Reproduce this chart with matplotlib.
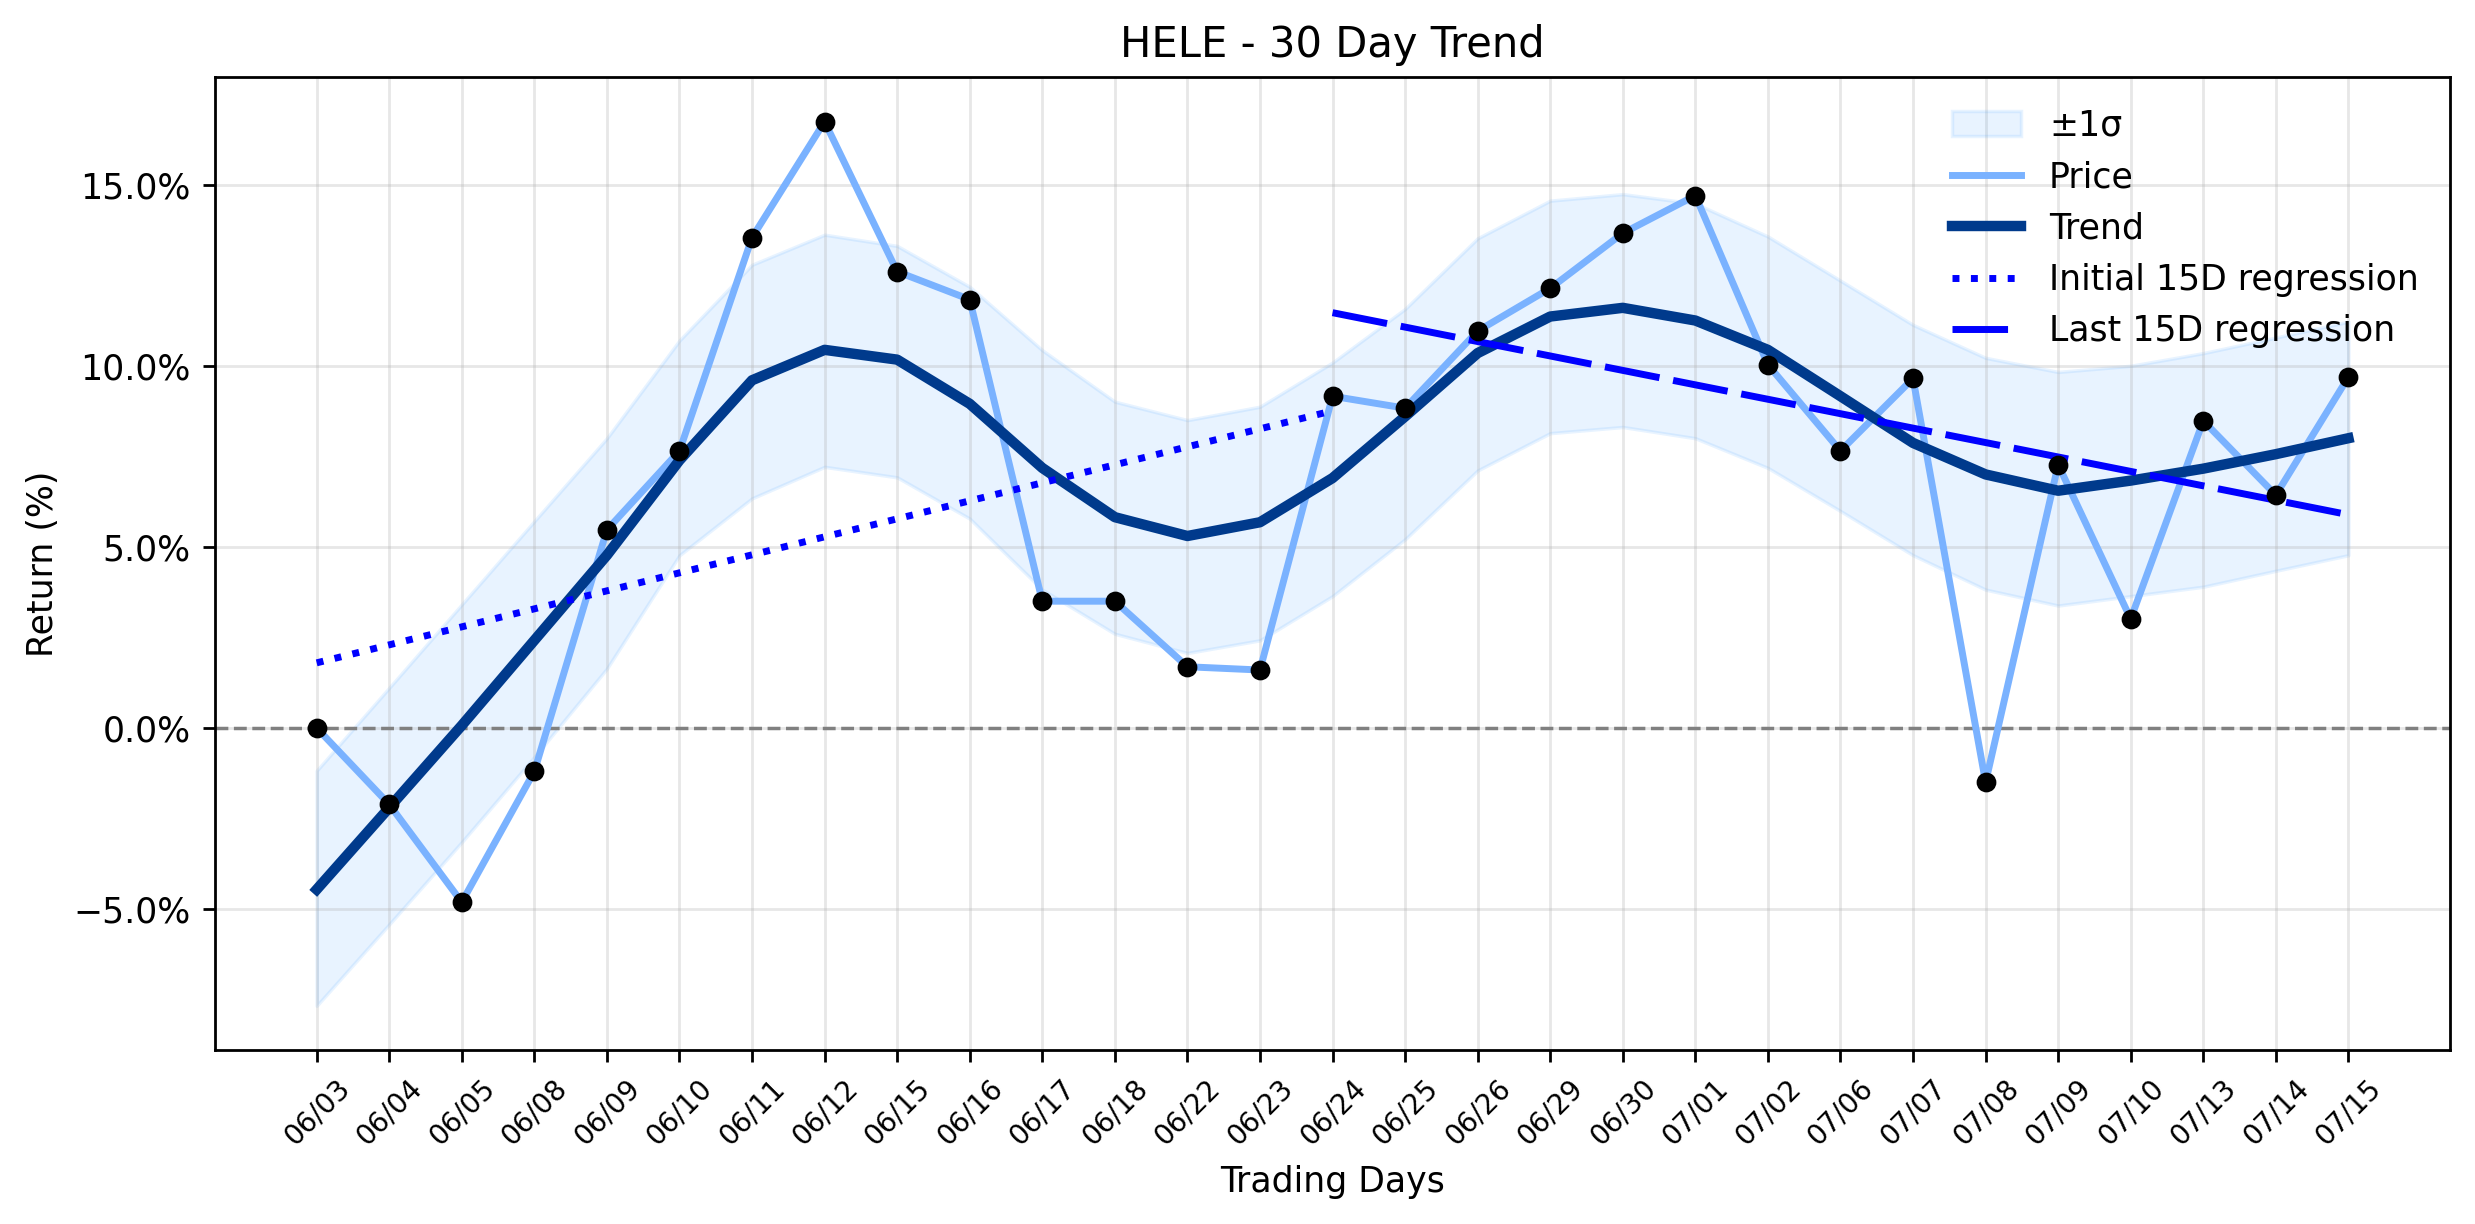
import numpy as np
import matplotlib
matplotlib.use("Agg")
import matplotlib.pyplot as plt
from matplotlib.ticker import FuncFormatter

dates = ["06/03", "06/04", "06/05", "06/08", "06/09", "06/10", "06/11", "06/12",
         "06/15", "06/16", "06/17", "06/18", "06/22", "06/23", "06/24", "06/25",
         "06/26", "06/29", "06/30", "07/01", "07/02", "07/06", "07/07", "07/08",
         "07/09", "07/10", "07/13", "07/14", "07/15"]

price = [0.0, -2.11, -4.81, -1.20, 5.47, 7.65, 13.54, 16.74, 12.60, 11.83, 3.50,
         3.50, 1.69, 1.60, 9.16, 8.83, 10.96, 12.14, 13.66, 14.70, 10.03, 7.65,
         9.65, -1.50, 7.27, 3.01, 8.48, 6.43, 9.69]

trend = [-4.46, -2.20, 0.07, 2.42, 4.77, 7.39, 9.60, 10.44, 10.17, 8.95, 7.18,
         5.82, 5.30, 5.68, 6.90, 8.60, 10.35, 11.36, 11.60, 11.25, 10.44, 9.16,
         7.87, 7.00, 6.55, 6.83, 7.16, 7.56, 8.00]

band_upper = [-1.18, 1.11, 3.41, 5.71, 8.00, 10.70, 12.79, 13.62, 13.31, 12.18,
              10.43, 9.01, 8.50, 8.87, 10.09, 11.57, 13.52, 14.56, 14.74, 14.48,
              13.57, 12.35, 11.13, 10.22, 9.83, 10.00, 10.35, 10.78, 11.22]

band_lower = [-7.67, -5.42, -3.15, -0.80, 1.64, 4.77, 6.34, 7.21, 6.92, 5.78,
              3.82, 2.60, 2.07, 2.42, 3.64, 5.21, 7.11, 8.14, 8.31, 8.00, 7.18,
              5.99, 4.77, 3.82, 3.38, 3.64, 3.90, 4.34, 4.77]

window = 15

x = np.arange(len(dates))
p = np.array(price)

fig = plt.figure(figsize=(9.9, 4.896), dpi=250)
ax = fig.add_axes([0.0869, 0.1422, 0.9899 - 0.0869, 0.9367 - 0.1422])

ax.fill_between(x, band_lower, band_upper, color="#1E90FF", alpha=0.1, label="±1σ")
ax.plot(x, price, color="#7ab2ff", lw=2, label="Price", zorder=3)
ax.scatter(x, price, color="black", s=22, zorder=5)
ax.plot(x, trend, color="#003a8c", lw=3, label="Trend", zorder=4)

xi = x[:window]
c1 = np.polyfit(xi, p[:window], 1)
ax.plot(xi, np.polyval(c1, xi), color="blue", lw=2, linestyle=":",
        label="Initial 15D regression", zorder=4)
xl = x[-window:]
c2 = np.polyfit(xl, p[-window:], 1)
ax.plot(xl, np.polyval(c2, xl), color="blue", lw=2, linestyle=(0, (8, 2)),
        label="Last 15D regression", zorder=4)

ax.axhline(0, color="gray", lw=1, linestyle="--", zorder=2)

ax.set_xticks(x)
ax.set_xticklabels(dates, rotation=45, fontsize=8)
ax.yaxis.set_major_formatter(FuncFormatter(lambda v, _: f"{v:.1f}%".replace("-", "\u2212")))
ax.grid(True, alpha=0.3)
ax.set_title("HELE - 30 Day Trend", fontsize=12)
ax.set_xlabel("Trading Days", fontsize=10)
ax.set_ylabel("Return (%)", fontsize=10)
ax.legend(loc="upper right", frameon=False, fontsize=10)

fig.savefig("out.png", dpi=250)
